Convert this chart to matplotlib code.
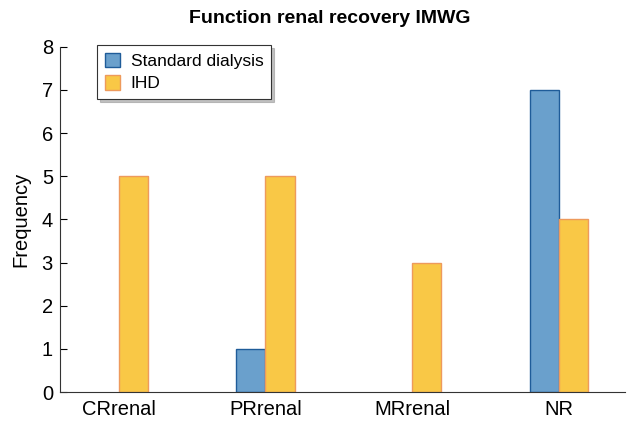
import numpy as np
import matplotlib.pyplot as plt

plt.rcParams['font.family'] = ['Liberation Sans', 'DejaVu Sans']

# data
categories = ['CRrenal', 'PRrenal', 'MRrenal', 'NR']
standard = [0, 1, 0, 7]
ihd = [5, 5, 3, 4]

fig = plt.figure(figsize=(6.3, 4.22), dpi=100)
ax = fig.add_axes([0.095, 0.071, 0.897, 0.818])

x = np.arange(len(categories))
w = 0.2
ax.bar(x - w / 2, standard, w, color='#6aa0cc', edgecolor='#1f5c99',
       linewidth=[1.0 if v > 0 else 0 for v in standard], label='Standard dialysis')
ax.bar(x + w / 2, ihd, w, color='#f9c846', edgecolor='#ee9a5c',
       linewidth=[1.0 if v > 0 else 0 for v in ihd], label='IHD')

ax.set_xlim(-0.40, 3.45)
ax.set_ylim(0, 8)
ax.set_yticks(range(0, 9))
ax.set_xticks(x)
ax.set_xticklabels(categories)
ax.tick_params(axis='y', direction='in', length=5, labelsize=14.5, pad=5)
ax.tick_params(axis='x', length=0, labelsize=14.5, pad=6)
for s in ['top', 'right']:
    ax.spines[s].set_visible(False)
ax.spines['left'].set_color('#333333')
ax.spines['bottom'].set_color('#333333')

ax.set_ylabel('Frequency', fontsize=14.5, labelpad=8)
fig.text(0.524, 0.957, 'Function renal recovery IMWG', fontsize=14, fontweight='bold',
         ha='center', va='center')

leg = ax.legend(loc='upper left', bbox_to_anchor=(0.154, 0.893),
                bbox_transform=fig.transFigure, fontsize=12.5,
                frameon=True, fancybox=False, shadow={'color': '#999999', 'alpha': 0.6},
                handlelength=0.9, handleheight=0.9, borderpad=0.45, labelspacing=0.35,
                handletextpad=0.6, borderaxespad=0)
leg.get_frame().set_edgecolor('#333333')
leg.get_frame().set_linewidth(0.8)
for h in leg.legend_handles:
    h.set_linewidth(1.0)

fig.savefig('out.png', dpi=100)
